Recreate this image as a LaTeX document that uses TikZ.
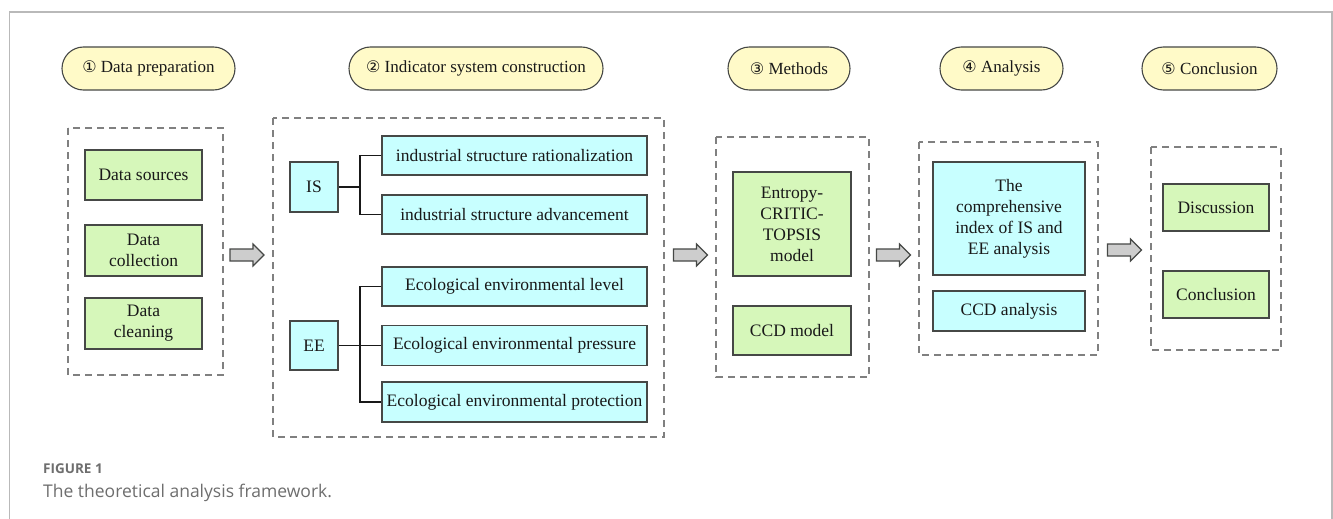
\documentclass[tikz,border=0pt]{standalone}
\usepackage{fontspec}
\setmainfont{Liberation Serif}
\newfontfamily\circfont{DejaVu Sans}
\newfontfamily\capfont{Open Sans}
\definecolor{gfill}{RGB}{214,247,186}
\definecolor{cfill}{RGB}{200,255,255}
\definecolor{yfill}{RGB}{255,250,200}
\definecolor{bord}{RGB}{70,72,70}
\definecolor{dashcol}{RGB}{128,128,128}
\definecolor{framecol}{RGB}{185,185,185}
\definecolor{capcol}{RGB}{110,110,110}
\definecolor{txt}{RGB}{25,25,25}
\definecolor{afill}{RGB}{205,205,205}
\newcommand{\cnum}[1]{{\circfont\fontsize{16}{16}\selectfont #1}}
\tikzset{
  boxbase/.style={draw=bord, line width=1.1pt, inner sep=0pt, align=center, text=txt,
    font=\fontsize{17.5}{21}\selectfont},
  gbox/.style={boxbase, fill=gfill},
  cbox/.style={boxbase, fill=cfill},
  pill/.style={draw=bord, line width=1.1pt, fill=yfill, rounded corners=21.5pt, minimum height=43pt,
    inner sep=0pt, text=txt, font=\fontsize{17}{20}\selectfont},
  panel/.style={draw=dashcol, line width=1.3pt, dash pattern=on 7pt off 5pt},
  link/.style={draw=txt, line width=1.1pt},
  barrow/.pic={\draw[draw=bord, line width=1.1pt, fill=afill, line join=miter]
    (-17,-6) -- (6,-6) -- (6,-11) -- (17,0) -- (6,11) -- (6,6) -- (-17,6) -- cycle;}
}
\begin{document}
\begin{tikzpicture}[x=1pt,y=-1pt]
\useasboundingbox (0,0) rectangle (1333,519);
\fill[white] (0,0) rectangle (1333,519);
\draw[framecol, line width=1.2pt] (9.5,519) -- (9.5,12) -- (1332,12) -- (1332,519);

% pills
\node[pill, minimum width=173pt] (p1) at (148.5,68.5) {\cnum{①} Data preparation};
\node[pill, minimum width=254pt] (p2) at (476,68.5) {\cnum{②} Indicator system construction};
\node[pill, minimum width=122pt] (p3) at (789,68.5) {\cnum{③} Methods};
\node[pill, minimum width=123pt] (p4) at (1001.5,68.5) {\cnum{④} Analysis};
\node[pill, minimum width=135pt] (p5) at (1209.5,68.5) {\cnum{⑤} Conclusion};

% panels
\draw[panel] (68,128) rectangle (223,375);
\draw[panel] (273,118) rectangle (664,437);
\draw[panel] (716,137) rectangle (869,377);
\draw[panel] (919,142) rectangle (1098,355);
\draw[panel] (1151,147) rectangle (1281,350);

% panel 1
\node[gbox, minimum width=117pt, minimum height=50pt] (ds) at (143.5,175) {Data sources};
\node[gbox, minimum width=117pt, minimum height=51pt] (dc) at (143.5,250.5) {Data\\collection};
\node[gbox, minimum width=117pt, minimum height=51pt] (dcl) at (143.5,323.5) {Data\\cleaning};

% panel 2
\node[cbox, minimum width=48pt, minimum height=50pt] (is) at (314,187) {IS};
\node[cbox, minimum width=48pt, minimum height=49pt] (ee) at (314,345.5) {EE};
\node[cbox, minimum width=265pt, minimum height=39pt] (r1) at (514.5,155.5) {industrial structure rationalization};
\node[cbox, minimum width=265pt, minimum height=39pt] (r2) at (514.5,214.5) {industrial structure advancement};
\node[cbox, minimum width=265pt, minimum height=39pt] (r3) at (514.5,286.5) {Ecological environmental level};
\node[cbox, minimum width=265pt, minimum height=40pt] (r4) at (514.5,345.5) {Ecological environmental pressure};
\node[cbox, minimum width=265pt, minimum height=40pt] (r5) at (514.5,402) {Ecological environmental protection};
\coordinate (isj) at (360,187);
\coordinate (eej) at (360,345.5);
\draw[link] (is.east) -- (isj);
\draw[link] (r1.west) -| (isj) |- (r2.west);
\draw[link] (ee.east) -- (eej) -- (r4.west);
\draw[link] (r3.west) -| (eej) |- (r5.west);

% panel 3
\node[gbox, minimum width=118pt, minimum height=104pt] (ent) at (792,224) {Entropy-\\CRITIC-\\TOPSIS\\model};
\node[gbox, minimum width=118pt, minimum height=49pt] (ccdm) at (792,330.5) {CCD model};

% panel 4
\node[cbox, minimum width=152pt, minimum height=113pt] (comp) at (1009,218.5) {The\\comprehensive\\index of IS and\\EE analysis};
\node[cbox, minimum width=152pt, minimum height=40pt] (ccda) at (1009,311) {CCD analysis};

% panel 5
\node[gbox, minimum width=106pt, minimum height=47pt] (disc) at (1216,207.5) {Discussion};
\node[gbox, minimum width=106pt, minimum height=47pt] (concl) at (1216,294.5) {Conclusion};

% block arrows
\pic at (247,255) {barrow};
\pic at (690.5,255) {barrow};
\pic at (893.5,255) {barrow};
\pic at (1124.5,250) {barrow};

% caption
\node[anchor=base west, inner sep=0pt, text=capcol, font=\capfont\bfseries\fontsize{13.5}{16}\selectfont] (fig) at (43,473) {FIGURE 1};
\node[anchor=base west, inner sep=0pt, text=capcol, font=\capfont\fontsize{17.5}{21}\selectfont] (cap) at (43,497) {The theoretical analysis framework.};
\end{tikzpicture}
\end{document}
